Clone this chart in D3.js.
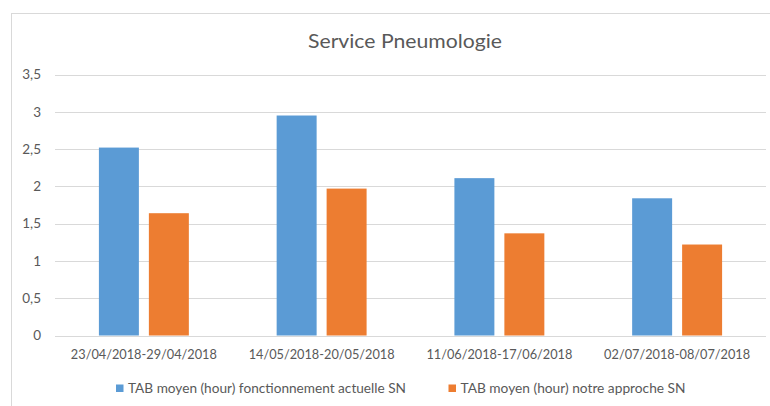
<!DOCTYPE html>
<html>
<head>
<meta charset="utf-8">
<script src="https://cdn.jsdelivr.net/npm/d3@7"></script>
<style>
  html, body { margin: 0; padding: 0; background: #fff; }
  svg { display: block; }
  text { font-family: Lato, "Open Sans", sans-serif; fill: #595959; }
</style>
</head>
<body>
<svg id="chart" width="770" height="406"></svg>
<script>
// Weekly average TAB (hours), Service Pneumologie
const categories = [
  "23/04/2018-29/04/2018",
  "14/05/2018-20/05/2018",
  "11/06/2018-17/06/2018",
  "02/07/2018-08/07/2018"
];
const seriesNames = [
  "TAB moyen (hour) fonctionnement actuelle SN",
  "TAB moyen (hour) notre approche SN"
];
const actuelle = [2.52, 2.95, 2.11, 1.84];
const approche = [1.64, 1.97, 1.37, 1.22];
const yTicks = [0, 0.5, 1, 1.5, 2, 2.5, 3, 3.5];
const colors = ["#5B9BD5", "#ED7D31"];

const rows = categories.map((c, i) => ({ cat: c, values: [actuelle[i], approche[i]] }));

const svg = d3.select("#chart");
const W = 770, H = 406;

// chart area frame
svg.append("rect")
  .attr("x", 11.5).attr("y", 13.5)
  .attr("width", W + 20).attr("height", H + 20)
  .attr("fill", "#fff").attr("stroke", "#d9d9d9").attr("stroke-width", 1);

const plot = { left: 55, right: 766, top: 74.5, bottom: 335.5 };

const x0 = d3.scaleBand().domain(categories).range([plot.left, plot.right]).padding(0);
const x1 = d3.scaleBand().domain([0, 1])
  .range([x0.bandwidth() * 0.247, x0.bandwidth() * 0.753]).paddingInner(0.2);
const y = d3.scaleLinear().domain([0, 3.5]).range([plot.bottom, plot.top]);

const fmt = v => String(v).replace(".", ",");

// gridlines
svg.append("g").selectAll("line").data(yTicks).join("line")
  .attr("x1", plot.left).attr("x2", plot.right)
  .attr("y1", d => Math.round(y(d)) + 0.5).attr("y2", d => Math.round(y(d)) + 0.5)
  .attr("stroke", "#d9d9d9").attr("stroke-width", 1);

// y-axis labels
const yAxis = d3.axisLeft(y).tickValues(yTicks).tickFormat(fmt).tickSize(0).tickPadding(0);
const gy = svg.append("g").attr("transform", "translate(41,0)").call(yAxis);
gy.select(".domain").remove();
gy.selectAll("text")
  .attr("font-family", "Lato, 'Open Sans', sans-serif")
  .attr("font-size", 13.5).attr("fill", "#595959");

// bars
const groups = svg.append("g").selectAll("g").data(rows).join("g")
  .attr("transform", d => `translate(${x0(d.cat)},0)`);
groups.selectAll("rect").data(d => d.values.map((v, i) => ({ v, i }))).join("rect")
  .attr("x", d => x1(d.i))
  .attr("width", x1.bandwidth())
  .attr("y", d => y(d.v))
  .attr("height", d => y(0) - y(d.v))
  .attr("fill", d => colors[d.i]);

// x-axis labels
const xAxis = d3.axisBottom(x0).tickSize(0).tickPadding(0);
const gx = svg.append("g").attr("transform", `translate(0,${plot.bottom})`).call(xAxis);
gx.select(".domain").remove();
gx.selectAll("text")
  .attr("y", 23.5).attr("dy", null)
  .attr("font-family", "Lato, 'Open Sans', sans-serif")
  .attr("font-size", 14).attr("fill", "#595959")
  .attr("textLength", 146).attr("lengthAdjust", "spacingAndGlyphs");

// title
svg.append("text")
  .attr("x", 405).attr("y", 48)
  .attr("text-anchor", "middle")
  .attr("font-size", 19.5)
  .attr("textLength", 194).attr("lengthAdjust", "spacingAndGlyphs")
  .text("Service Pneumologie");

// legend
const legendX = [116, 448.5];
const legendW = [278, 225];
const lg = svg.append("g").selectAll("g").data(seriesNames).join("g")
  .attr("transform", (d, i) => `translate(${legendX[i]},0)`);
lg.append("rect")
  .attr("x", 0).attr("y", 384.5).attr("width", 7.5).attr("height", 7.5)
  .attr("fill", (d, i) => colors[i]);
lg.append("text")
  .attr("x", 12).attr("y", 392.5)
  .attr("font-size", 14)
  .attr("textLength", (d, i) => legendW[i]).attr("lengthAdjust", "spacingAndGlyphs")
  .text(d => d);
</script>
</body>
</html>
